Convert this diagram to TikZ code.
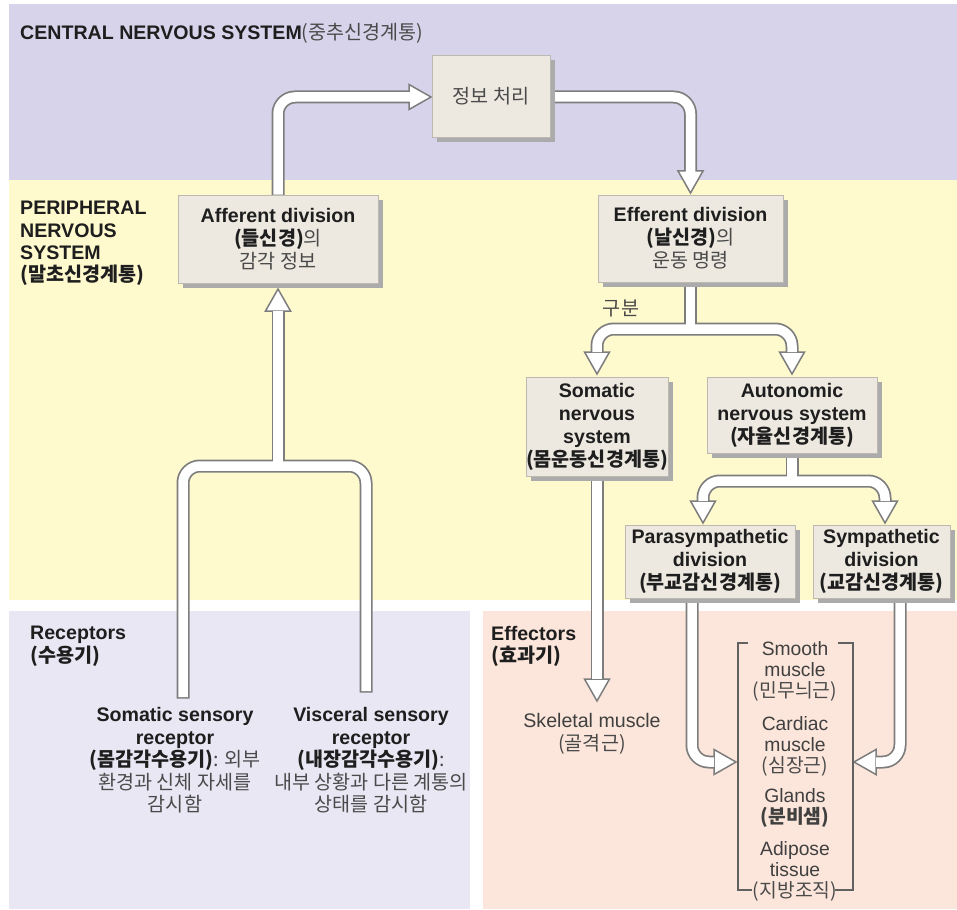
\documentclass[tikz,border=0pt]{standalone}
\usepackage{fontspec}
\setmainfont{Liberation Sans}
\newfontfamily\kr{Noto Sans CJK KR}
\usetikzlibrary{shadows,calc}
\definecolor{cnsbg}{HTML}{D7D3EA}
\definecolor{pnsbg}{HTML}{FFF9CE}
\definecolor{recbg}{HTML}{E9E7F4}
\definecolor{effbg}{HTML}{FCE6DB}
\definecolor{boxfill}{HTML}{EDE9E1}
\definecolor{boxline}{HTML}{BDB9B1}
\definecolor{shadowc}{HTML}{ABABAB}
\definecolor{arrgray}{HTML}{7D7D7D}
\definecolor{txt}{HTML}{1E1E1E}
\definecolor{korgray}{HTML}{4A4A4A}
\newcommand\krg[1]{{\kr\mdseries\color{korgray}#1}}
\newcommand\krb[1]{{\kr\bfseries #1}}
\newcommand\fathead[2]{\draw[headst,shift={(#1)},rotate=#2] (0,0) -- (-22,12.5) -- (-22,-12.5) -- cycle;}
\pgfdeclarelayer{regions}
\pgfdeclarelayer{arrows}
\pgfsetlayers{regions,arrows,main}
\begin{document}
\begin{tikzpicture}[x=1pt,y=-1pt,
  box/.style={draw=boxline, line width=0.8pt, fill=boxfill, align=center, inner sep=0pt,
    font=\fontsize{19.6}{23}\selectfont, text=txt,
    drop shadow={shadow xshift=5pt, shadow yshift=-5pt, fill=shadowc, opacity=1}},
  lbl/.style={inner sep=0pt, align=center, font=\fontsize{19.6}{22.6}\selectfont, text=txt},
  lbll/.style={inner sep=0pt, align=left, font=\fontsize{19.6}{22.4}\selectfont, text=txt},
  eflist/.style={inner sep=0pt, align=center, font=\fontsize{19.3}{21}\selectfont, text=txt!85},
  shaftout/.style={draw=arrgray, line width=13pt, rounded corners=17pt, shorten <=-1.5pt, shorten >=-1.5pt},
  shaftin/.style={draw=white, line width=9.5pt, rounded corners=17pt},
  headst/.style={fill=white, draw=arrgray, line width=1.5pt, line join=miter},
  brk/.style={draw=txt!70, line width=1.3pt}]
\useasboundingbox (0,0) rectangle (957,909);

% region backgrounds
\begin{pgfonlayer}{regions}
\fill[white] (0,0) rectangle (957,909);
\fill[cnsbg] (9,4) rectangle (957,180);
\fill[pnsbg] (9,180) rectangle (957,600);
\fill[recbg] (9,611) rectangle (470,909);
\fill[effbg] (483,611) rectangle (957,909);
\end{pgfonlayer}

% region labels
\node[lbl, anchor=base west] (cnslbl) at (20,40) {\bfseries CENTRAL NERVOUS SYSTEM\krg{(중추신경계통)}};
\node[lbll, anchor=north west] (pnslbl) at (20,201) {\bfseries PERIPHERAL\\ \bfseries NERVOUS\\ \bfseries SYSTEM\\ \krb{(말초신경계통)}};
\node[lbll, anchor=north west] (reclbl) at (30,626) {\bfseries Receptors\\ \krb{(수용기)}};
\node[lbll, anchor=north west] (efflbl) at (491,626) {\bfseries Effectors\\ \krb{(효과기)}};

% boxes
\node[box, minimum width=118pt, minimum height=82pt] (proc) at (491,96) {\krg{정보 처리}};
\node[box, minimum width=200pt, minimum height=88pt] (aff) at (278,239) {\bfseries Afferent division\\ \krb{(들신경)}\krg{의}\\ \krg{감각 정보}};
\node[box, minimum width=185pt, minimum height=87pt] (eff) at (690.5,238.5) {\bfseries Efferent division\\ \krb{(날신경)}\krg{의}\\ \krg{운동 명령}};
\node[box, minimum width=132pt, minimum height=99pt] (som) at (597,426.5) {\bfseries Somatic\\ \bfseries nervous\\ \bfseries system\\ \krb{(몸운동신경계통)}};
\node[box, minimum width=170pt, minimum height=76pt] (aut) at (792,415) {\bfseries Autonomic\\ \bfseries nervous system\\ \krb{(자율신경계통)}};
\node[box, minimum width=170pt, minimum height=73pt] (para) at (710,561.5) {\bfseries Parasympathetic\\ \bfseries division\\ \krb{(부교감신경계통)}};
\node[box, minimum width=137pt, minimum height=73pt] (sym) at (881.5,561.5) {\bfseries Sympathetic\\ \bfseries division\\ \krb{(교감신경계통)}};

\node[lbl] (gubun) at (621,308) {\krg{구분}};

% receptors
\node[lbl, anchor=north] (somrec) at (175,707) {\bfseries Somatic sensory\\ \bfseries receptor\\ \krb{(몸감각수용기)}\krg{: 외부}\\ \krg{환경과 신체 자세를}\\ \krg{감시함}};
\node[lbl, anchor=north] (visrec) at (371,707) {\bfseries Visceral sensory\\ \bfseries receptor\\ \krb{(내장감각수용기)}\krg{:}\\ \krg{내부 상황과 다른 계통의}\\ \krg{상태를 감시함}};

% effectors
\node[lbl, anchor=north, text=txt!85] (skel) at (592,713) {Skeletal muscle\\ \krg{(골격근)}};
\node[eflist, anchor=north] (smooth) at (795,641) {Smooth\\ muscle\\ \krg{(민무늬근)}};
\node[eflist, anchor=north] (card) at (795,716) {Cardiac\\ muscle\\ \krg{(심장근)}};
\node[eflist, anchor=north] (gland) at (795,788) {Glands\\ \krb{(분비샘)}};
\node[eflist, anchor=north] (adip) at (795,841) {Adipose\\ tissue\\ \krg{(지방조직)}};
\draw[brk] (748,643) -- (738,643) -- (738,890) -- (752,890);
\draw[brk] (838,643) -- (853,643) -- (853,890) -- (835,890);

% arrow coordinates
\coordinate (a1b) at (410,97);
\coordinate (a1t) at (431,97);
\coordinate (a2b) at (690.5,172);
\coordinate (a2t) at (690.5,193);
\coordinate (rs1) at (183,697);
\coordinate (rs2) at (366,691);
\coordinate (aj) at (278,466);
\coordinate (a3b) at (278,311);
\coordinate (a3t) at (278,289);
\coordinate (ej) at (690.5,329);
\coordinate (a4lb) at (597,352);
\coordinate (a4rb) at (792,352);
\coordinate (a4lt) at (597,374);
\coordinate (a4rt) at (792,374);
\coordinate (nj) at (792,481);
\coordinate (a5lb) at (703,501);
\coordinate (a5rb) at (885,501);
\coordinate (a5lt) at (703,523);
\coordinate (a5rt) at (885,523);
\coordinate (a6b) at (597,679);
\coordinate (a6t) at (597,701);
\coordinate (p7) at (692,590);
\coordinate (a7b) at (714,762);
\coordinate (a7t) at (736,762);
\coordinate (s8) at (900,590);
\coordinate (a8b) at (876,762);
\coordinate (a8t) at (854,762);

\newcommand\allshafts[1]{%
  \draw[#1] (aff.north) -- (aff.north |- a1b) -- (a1b);
  \draw[#1] (proc.east |- a1b) -- (a2b |- a1b) -- (a2b);
  \draw[#1] (rs1) -- (rs1 |- aj) -- (rs2 |- aj) -- (rs2);
  \draw[#1] (aj) -- (a3b);
  \draw[#1] (eff.south) -- (ej);
  \draw[#1] (a4lb) -- (a4lb |- ej) -- (a4rb |- ej) -- (a4rb);
  \draw[#1] (aut.south) -- (nj);
  \draw[#1] (a5lb) -- (a5lb |- nj) -- (a5rb |- nj) -- (a5rb);
  \draw[#1] (som.south) -- (a6b);
  \draw[#1] (p7) -- (p7 |- a7b) -- (a7b);
  \draw[#1] (s8) -- (s8 |- a8b) -- (a8b);
}
\begin{pgfonlayer}{arrows}
\allshafts{shaftout}
\fathead{a1t}{0}
\fathead{a2t}{-90}
\fathead{a3t}{90}
\fathead{a4lt}{-90}
\fathead{a4rt}{-90}
\fathead{a5lt}{-90}
\fathead{a5rt}{-90}
\fathead{a6t}{-90}
\fathead{a7t}{0}
\fathead{a8t}{180}
\allshafts{shaftin}
\end{pgfonlayer}
\end{tikzpicture}
\end{document}
